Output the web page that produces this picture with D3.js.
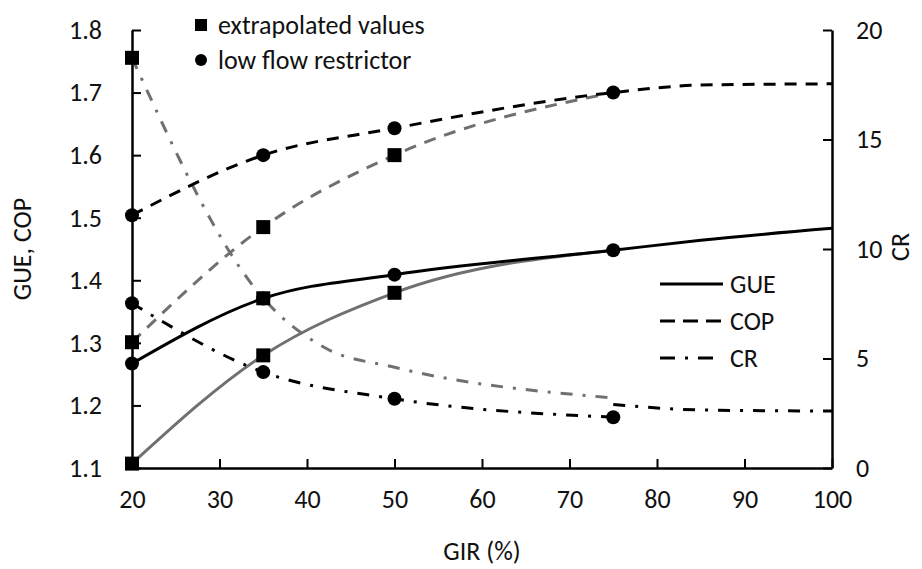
<!DOCTYPE html>
<html>
<head>
<meta charset="utf-8">
<script src="https://cdn.jsdelivr.net/npm/d3@7"></script>
<style>
  body { margin: 0; background: #fff; }
  text { font-family: Carlito, Calibri, Lato, "Open Sans", sans-serif; fill: #111; }
</style>
</head>
<body>
<script>
// low flow restrictor (circles)
const girLow = [20, 35, 50, 75];
const gueLow = [1.267, 1.371, 1.409, 1.448];
const copLow = [1.504, 1.60, 1.643, 1.70];
const crLow = [7.52, 4.38, 3.16, 2.32];

// extrapolated values (squares)
const girExt = [20, 35, 50];
const gueExt = [1.107, 1.28, 1.38];
const copExt = [1.301, 1.485, 1.60];
const girExtCr = [20, 35];
const crExt = [18.73, 7.75];

// gray extrapolation lines
const girExtLine = [20, 35, 50, 75];
const gueExtLine = [1.107, 1.28, 1.38, 1.448];
const copExtLine = [1.301, 1.485, 1.60, 1.70];
const girExtLineCr = [20, 35, 42, 50, 75];
const crExtLine = [18.73, 7.75, 5.5, 4.6, 3.2];

// black trend lines
const girTrend = [20, 35, 50, 75, 85, 100];
const gueTrend = [1.267, 1.371, 1.409, 1.448, 1.464, 1.483];
const copTrend = [1.504, 1.60, 1.643, 1.70, 1.712, 1.714];
const crTrend = [7.52, 4.38, 3.16, 2.32];
const girCrTail = [75, 85, 100];
const crTail = [2.9, 2.65, 2.6];

const xTicks = [20, 30, 40, 50, 60, 70, 80, 90, 100];
const yLeftTicks = [1.1, 1.2, 1.3, 1.4, 1.5, 1.6, 1.7, 1.8];
const yRightTicks = [0, 5, 10, 15, 20];

const legendItems = ["GUE", "COP", "CR"];

const W = 922, H = 569;
const margin = { top: 30, right: 90, bottom: 101, left: 132 };
const width = W - margin.left - margin.right;
const height = H - margin.top - margin.bottom;
const fs = "26px";

const black = "#000";
const gray = "#707070";
const dashed = "12,9";
const dashDot = "12,10,3,10";

const svg = d3.select("body")
    .append("svg")
    .attr("width", W)
    .attr("height", H)
    .append("g")
    .attr("transform", `translate(${margin.left}, ${margin.top})`);

const x = d3.scaleLinear().domain([20, 100]).range([0, width]);
const yL = d3.scaleLinear().domain([1.1, 1.8]).range([height, 0]);
const yR = d3.scaleLinear().domain([0, 20]).range([height, 0]);

// axes (ticks inside)
const axisStyle = g => {
    g.select(".domain").attr("stroke", black).attr("stroke-width", 2.5);
    g.selectAll(".tick line").attr("stroke", black).attr("stroke-width", 2);
    g.selectAll(".tick text").style("font-size", fs).attr("fill", "#111");
};

svg.append("g")
    .attr("transform", `translate(0, ${height})`)
    .call(d3.axisBottom(x).tickValues(xTicks).tickSize(-9).tickSizeOuter(0).tickPadding(22))
    .call(axisStyle);

svg.append("g")
    .call(d3.axisLeft(yL).tickValues(yLeftTicks).tickFormat(d3.format(".1f")).tickSize(-9).tickSizeOuter(0).tickPadding(30))
    .call(axisStyle);

svg.append("g")
    .attr("transform", `translate(${width}, 0)`)
    .call(d3.axisRight(yR).tickValues(yRightTicks).tickSize(-9).tickSizeOuter(0).tickPadding(24))
    .call(axisStyle);

// axis titles
svg.append("text")
    .attr("transform", `translate(${-110}, ${height / 2}) rotate(-90)`)
    .attr("text-anchor", "middle")
    .attr("dy", "0.35em")
    .style("font-size", fs)
    .text("GUE, COP");

svg.append("text")
    .attr("transform", `translate(${width + 68}, ${height / 2 - 2}) rotate(-90)`)
    .attr("text-anchor", "middle")
    .attr("dy", "0.35em")
    .style("font-size", fs)
    .text("CR");

svg.append("text")
    .attr("x", width / 2)
    .attr("y", height + 92)
    .attr("text-anchor", "middle")
    .style("font-size", fs)
    .text("GIR (%)");

// lines
const zip = (xs, ys) => xs.map((d, i) => [d, ys[i]]);
const lineL = d3.line().x(d => x(d[0])).y(d => yL(d[1])).curve(d3.curveMonotoneX);
const lineR = d3.line().x(d => x(d[0])).y(d => yR(d[1])).curve(d3.curveMonotoneX);

function drawLine(pts, gen, color, dash) {
    svg.append("path")
        .attr("d", gen(pts))
        .attr("fill", "none")
        .attr("stroke", color)
        .attr("stroke-width", 3)
        .attr("stroke-dasharray", dash);
}

drawLine(zip(girExtLine, gueExtLine), lineL, gray, null);
drawLine(zip(girExtLine, copExtLine), lineL, gray, dashed);
drawLine(zip(girExtLineCr, crExtLine), lineR, gray, dashDot);

drawLine(zip(girTrend, gueTrend), lineL, black, null);
drawLine(zip(girTrend, copTrend), lineL, black, dashed);
drawLine(zip(girLow, crTrend), lineR, black, dashDot);
drawLine(zip(girCrTail, crTail), lineR, black, dashDot);

// markers
function drawCircles(xs, ys, scale) {
    svg.selectAll(null)
        .data(zip(xs, ys))
        .enter()
        .append("circle")
        .attr("cx", d => x(d[0]))
        .attr("cy", d => scale(d[1]))
        .attr("r", 7)
        .attr("fill", black);
}

function drawSquares(xs, ys, scale) {
    svg.selectAll(null)
        .data(zip(xs, ys))
        .enter()
        .append("rect")
        .attr("x", d => x(d[0]) - 7)
        .attr("y", d => scale(d[1]) - 7)
        .attr("width", 14)
        .attr("height", 14)
        .attr("fill", black);
}

drawCircles(girLow, gueLow, yL);
drawCircles(girLow, copLow, yL);
drawCircles(girLow, crLow, yR);

drawSquares(girExt, gueExt, yL);
drawSquares(girExt, copExt, yL);
drawSquares(girExtCr, crExt, yR);

// top legend (markers)
const topLegend = svg.append("g").attr("transform", "translate(69, -5)");
topLegend.append("rect").attr("x", -6).attr("y", -6).attr("width", 12).attr("height", 12).attr("fill", black);
topLegend.append("text").attr("x", 17).attr("y", 0).attr("dy", "0.35em").style("font-size", fs).text("extrapolated values");
topLegend.append("circle").attr("cx", 0).attr("cy", 35).attr("r", 6).attr("fill", black);
topLegend.append("text").attr("x", 17).attr("y", 35).attr("dy", "0.35em").style("font-size", fs).text("low flow restrictor");

// right legend (line styles)
const dashes = [null, "15,8", "15,10,3,10"];
const lineLegend = svg.append("g").attr("transform", "translate(528, 254)");
legendItems.forEach((name, i) => {
    lineLegend.append("line")
        .attr("x1", 0).attr("x2", 63)
        .attr("y1", i * 37).attr("y2", i * 37)
        .attr("stroke", black)
        .attr("stroke-width", 3)
        .attr("stroke-dasharray", dashes[i]);
    lineLegend.append("text")
        .attr("x", 70).attr("y", i * 37)
        .attr("dy", "0.35em")
        .style("font-size", fs)
        .text(name);
});
</script>
</body>
</html>
